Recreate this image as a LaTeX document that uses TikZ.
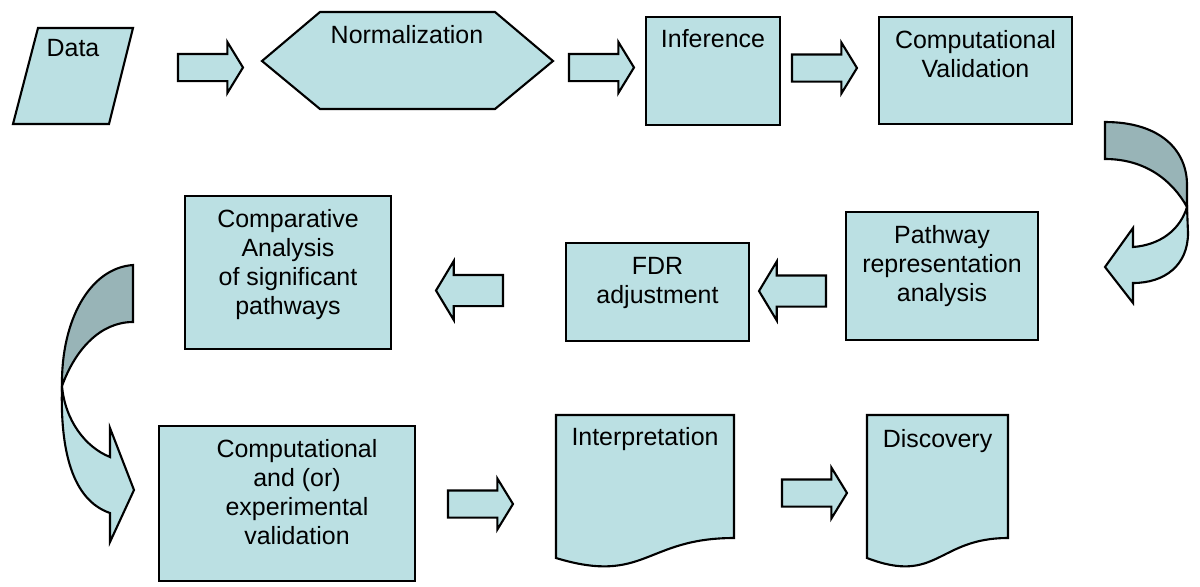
\documentclass[tikz,border=0pt]{standalone}
\usepackage{fontspec}
\setmainfont{Liberation Sans}
\usetikzlibrary{shapes.arrows}
\definecolor{boxfill}{RGB}{187,224,227}
\definecolor{backfill}{RGB}{152,180,183}

\begin{document}
\begin{tikzpicture}
        [x=0.02cm, y=-0.02cm,
        box/.style={draw, line width=1.2pt, fill=boxfill, inner sep=0pt, outer sep=0pt},
        outline/.style={draw, line width=1.2pt, fill=boxfill, line join=miter},
        backpart/.style={draw, line width=1.2pt, fill=backfill},
        txt/.style={font=\fontsize{14.2}{16.6}\selectfont, align=center, inner sep=0pt, anchor=north},
        blockarrow/.style={single arrow, draw, line width=1.2pt, fill=boxfill, inner xsep=0pt,
            inner ysep=0.25cm, outer sep=0pt, anchor=tail, single arrow head indent=0pt,
            minimum height=1.3cm, single arrow head extend=0.24cm, single arrow tip angle=117},
        backarrow/.style={blockarrow, shape border rotate=180, minimum height=1.34cm,
            inner ysep=0.29cm, single arrow head extend=0.28cm, single arrow tip angle=118}]
        \useasboundingbox (0,0) rectangle (1200,586);

        % first row
        \draw[outline] (38,28) -- (133,28) -- (109,124) -- (13,124) -- cycle;
        \node[txt] (data) at (73,39) {Data};
        \draw[outline] (262,61) -- (320,12) -- (495,12) -- (553,61) -- (495,109) -- (320,109) -- cycle;
        \node[txt] (norm) at (407,25) {Normalization};
        \node[box, minimum width=2.68cm, minimum height=2.16cm] (infer) at (713,71) {};
        \node[txt] (infer-t) at (713,29) {Inference};
        \node[box, minimum width=3.86cm, minimum height=2.14cm] (compval) at (975.5,70.5) {};
        \node[txt] (compval-t) at (975.5,30) {Computational\\Validation};

        \node[blockarrow] (a1) at (178,67.5) {};
        \node[blockarrow] (a2) at (569,67.5) {};
        \node[blockarrow] (a3) at (792,68) {};

        % turn down on the right
        \draw[backpart] (1105,122) .. controls (1160,122) and (1187,150) .. (1187,185)
            -- (1187,207) .. controls (1172,180) and (1145,159) .. (1105,159) -- cycle;
        \draw[outline] (1187,207) -- (1188,233) .. controls (1188,265) and (1165,283) .. (1133,283)
            -- (1133,303) -- (1105,267) -- (1133,228) -- (1133,247)
            .. controls (1160,245) and (1180,230) .. (1187,207) -- cycle;

        % second row
        \node[box, minimum width=3.84cm, minimum height=2.56cm] (pathway) at (942,276) {};
        \node[txt] (pathway-t) at (942,225) {Pathway\\representation\\analysis};
        \node[box, minimum width=3.66cm, minimum height=1.96cm] (fdr) at (657.5,292) {};
        \node[txt] (fdr-t) at (657.5,257) {FDR\\adjustment};
        \node[box, minimum width=4.12cm, minimum height=3.06cm] (compar) at (288,272.5) {};
        \node[txt] (compar-t) at (288,209) {Comparative\\Analysis\\of significant\\pathways};

        \node[backarrow] (a4) at (826,291) {};
        \node[backarrow] (a5) at (503,290.5) {};

        % turn down on the left
        \draw[backpart] (133,265) .. controls (90,268) and (61,320) .. (62,386)
            .. controls (75,350) and (100,322) .. (133,322) -- cycle;
        \draw[outline] (62,386) .. controls (60,450) and (72,500) .. (110,513)
            -- (110,542) -- (134,490) -- (110,428) -- (110,457)
            .. controls (85,447) and (65,420) .. (62,386) -- cycle;

        % third row
        \node[box, minimum width=5.12cm, minimum height=3.10cm] (compexp) at (287,503.5) {};
        \node[txt] (compexp-t) at (297,439) {Computational\\and (or)\\experimental\\validation};
        \draw[outline] (556,415) -- (734,415) -- (734,538) .. controls (645,538) and (645,585) .. (556,558) -- cycle;
        \node[txt] (interp) at (645,427) {Interpretation};
        \draw[outline] (867,415) -- (1008,415) -- (1008,538) .. controls (937.5,538) and (937.5,585) .. (867,558) -- cycle;
        \node[txt] (disc) at (937.5,429) {Discovery};

        \node[blockarrow] (a6) at (448,504) {};
        \node[blockarrow] (a7) at (782,493) {};

    \end{tikzpicture}
\end{document}
